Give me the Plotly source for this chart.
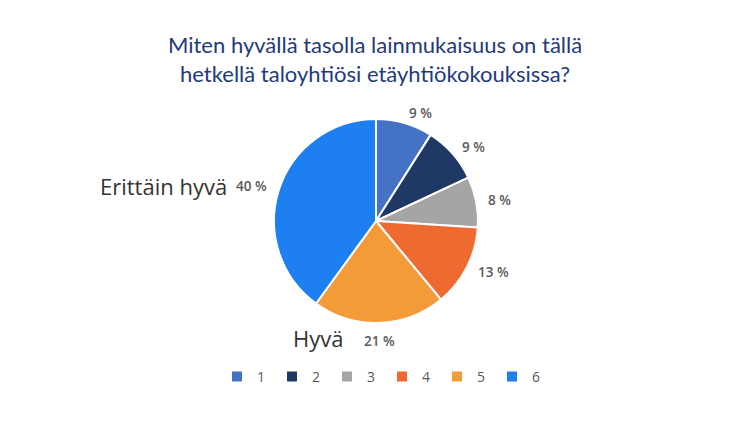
import math
import plotly.graph_objects as go

labels = ["1", "2", "3", "4", "5", "6"]
values = [9, 9, 8, 13, 21, 40]
colors = ["#4472C4", "#1F3864", "#A5A5A5", "#EE6A30", "#F29B38", "#1E7FF0"]
title_lines = ["Miten hyvällä tasolla lainmukaisuus on tällä",
               "hetkellä taloyhtiösi etäyhtiökokouksissa?"]

# page body has an 8px margin: use a figure 8px smaller, coordinates = screen - 8
OFF = 8
W, H = 750 - OFF, 422 - OFF
cx, cy, r = 376 - OFF, 221 - OFF, 102

fig = go.Figure(go.Pie(
    labels=labels, values=values, sort=False, direction="clockwise", rotation=0,
    marker=dict(colors=colors, line=dict(color="white", width=2)),
    textinfo="none", hoverinfo="label+value",
    domain=dict(x=[(cx - r) / W, (cx + r) / W], y=[1 - (cy + r) / H, 1 - (cy - r) / H]),
))

# outside value labels placed along each slice's mid angle
total = sum(values)
cum = 0
lr = r + 10
for v in values:
    mid = (cum + v / 2) / total * 2 * math.pi
    cum += v
    dx, dy = math.sin(mid), -math.cos(mid)
    px, py = cx + lr * dx, cy + lr * dy
    if abs(dx) < 0.2:
        xa = "center"
        py += 8 * (1 if dy > 0 else -1)
    else:
        xa = "left" if dx > 0 else "right"
    fig.add_annotation(text=f"{v} %", x=px / W, y=1 - py / H, xref="paper", yref="paper",
                       showarrow=False, xanchor=xa, yanchor="middle",
                       font=dict(family="Open Sans", size=13.5, color="#595959", weight=600))

fig.add_annotation(text="<br>".join(title_lines), x=(375 - OFF) / W, y=1 - (59 - OFF) / H,
                   xref="paper", yref="paper", showarrow=False,
                   font=dict(family="Lato", size=22, color="#1F3A7A"),
                   xanchor="center", yanchor="middle", align="center")
fig.add_annotation(text="Erittäin hyvä", x=(98 - OFF) / W, y=1 - (186 - OFF) / H,
                   xref="paper", yref="paper", showarrow=False,
                   font=dict(family="Open Sans", size=22, color="#333333"),
                   xanchor="left", yanchor="middle")
fig.add_annotation(text="Hyvä", x=(291 - OFF) / W, y=1 - (338 - OFF) / H,
                   xref="paper", yref="paper", showarrow=False,
                   font=dict(family="Open Sans", size=22, color="#333333"),
                   xanchor="left", yanchor="middle")

fig.update_layout(
    width=W, height=H, margin=dict(l=0, r=0, t=0, b=0),
    paper_bgcolor="white", plot_bgcolor="white",
    showlegend=True,
    legend=dict(orientation="h", x=(382 - OFF) / W, y=1 - (377 - OFF) / H,
                xanchor="center", yanchor="middle",
                font=dict(family="Open Sans", size=14, color="#595959"), itemwidth=30,
                entrywidth=10, entrywidthmode="pixels", traceorder="normal"),
)

fig.write_html("out.html")
